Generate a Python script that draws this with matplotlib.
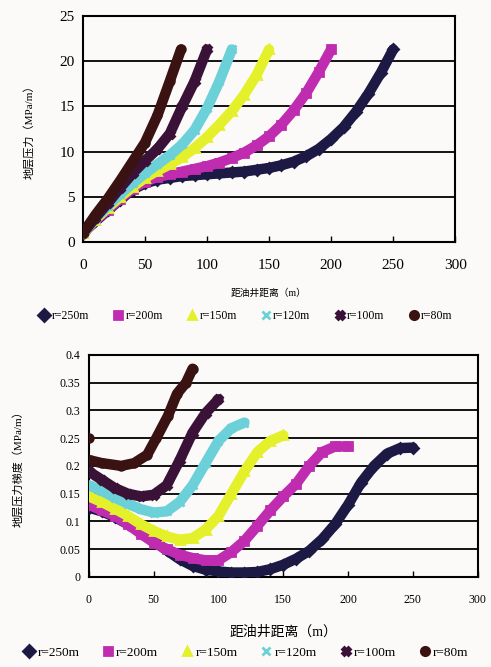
import matplotlib
matplotlib.use("Agg")
import matplotlib.pyplot as plt
from matplotlib.lines import Line2D

plt.rcParams["font.family"] = ["Liberation Serif", "Noto Sans CJK SC"]

LABELS = ["r=250m", "r=200m", "r=150m", "r=120m", "r=100m", "r=80m"]
COLORS = ["#1c1a44", "#c02cb0", "#e4f02a", "#6cd0d8", "#3a1238", "#3a1212"]
MARKERS = ["D", "s", "^", "x", "X", "o"]

# top chart: formation pressure vs distance
P_X = {
    "r=250m": [0, 10, 20, 30, 40, 50, 60, 70, 80, 90, 100, 110, 120, 130, 140, 150,
               160, 170, 180, 190, 200, 210, 220, 230, 240, 250],
    "r=200m": [0, 10, 20, 30, 40, 50, 60, 70, 80, 90, 100, 110, 120, 130, 140, 150,
               160, 170, 180, 190, 200],
    "r=150m": [0, 10, 20, 30, 40, 50, 60, 70, 80, 90, 100, 110, 120, 130, 140, 150],
    "r=120m": [0, 10, 20, 30, 40, 50, 60, 70, 80, 90, 100, 110, 120],
    "r=100m": [0, 10, 20, 30, 40, 50, 60, 70, 80, 90, 100],
    "r=80m": [0, 10, 20, 30, 40, 50, 60, 70, 79],
}
P_Y = {
    "r=250m": [1.0, 2.3, 3.5, 4.7, 5.8, 6.5, 6.9, 7.1, 7.3, 7.4, 7.5, 7.6, 7.7, 7.8, 8.0, 8.2,
               8.5, 8.9, 9.5, 10.3, 11.4, 12.7, 14.4, 16.4, 18.7, 21.3],
    "r=200m": [1.0, 2.4, 3.6, 4.8, 5.9, 6.7, 7.2, 7.5, 7.8, 8.1, 8.4, 8.8, 9.3, 9.9, 10.7, 11.7,
               13.0, 14.6, 16.5, 18.8, 21.3],
    "r=150m": [1.0, 2.5, 3.8, 5.0, 6.1, 7.1, 7.9, 8.6, 9.4, 10.4, 11.6, 13.0, 14.5, 16.3, 18.5, 21.3],
    "r=120m": [1.0, 2.6, 4.0, 5.3, 6.5, 7.6, 8.6, 9.6, 10.8, 12.4, 14.8, 17.8, 21.3],
    "r=100m": [1.0, 2.7, 4.3, 6.0, 7.6, 9.0, 10.3, 12.0, 15.0, 17.8, 21.3],
    "r=80m": [1.0, 3.0, 4.8, 6.8, 8.9, 11.0, 14.0, 17.8, 21.3],
}

# bottom chart: pressure gradient vs distance
G_X = {
    "r=250m": [0, 10, 20, 30, 40, 50, 60, 70, 80, 90, 100, 110, 120, 130, 140, 150,
               160, 170, 180, 190, 200, 210, 220, 230, 240, 250],
    "r=200m": [0, 10, 20, 30, 40, 50, 60, 70, 80, 90, 100, 110, 120, 130, 140, 150,
               160, 170, 180, 190, 200],
    "r=150m": [0, 10, 20, 30, 40, 50, 60, 70, 80, 90, 100, 110, 120, 130, 140, 150],
    "r=120m": [0, 10, 20, 30, 40, 50, 60, 70, 80, 90, 100, 110, 120],
    "r=100m": [0, 10, 20, 30, 40, 50, 60, 70, 80, 90, 100],
    "r=80m": [0, 1, 10, 25, 35, 45, 52, 61, 68, 75, 80],
}
G_Y = {
    "r=250m": [0.125, 0.118, 0.108, 0.095, 0.08, 0.065, 0.048, 0.032, 0.02, 0.013, 0.01, 0.008,
               0.008, 0.009, 0.014, 0.022, 0.033, 0.047, 0.068, 0.095, 0.13, 0.17, 0.2, 0.222,
               0.232, 0.233],
    "r=200m": [0.13, 0.12, 0.11, 0.095, 0.078, 0.062, 0.05, 0.04, 0.034, 0.03, 0.03, 0.045,
               0.065, 0.092, 0.12, 0.145, 0.168, 0.2, 0.225, 0.235, 0.235],
    "r=150m": [0.145, 0.135, 0.123, 0.11, 0.095, 0.083, 0.073, 0.067, 0.07, 0.085, 0.11, 0.15,
               0.19, 0.225, 0.245, 0.255],
    "r=120m": [0.165, 0.155, 0.143, 0.132, 0.122, 0.116, 0.118, 0.135, 0.165, 0.205, 0.245,
               0.268, 0.278],
    "r=100m": [0.19, 0.175, 0.16, 0.15, 0.145, 0.148, 0.165, 0.21, 0.26, 0.295, 0.32],
    "r=80m": [0.25, 0.21, 0.205, 0.2, 0.205, 0.22, 0.25, 0.29, 0.33, 0.35, 0.375],
}


def style_axes(ax, ymax, ystep, tick_size):
    ax.set_xlim(0, 300)
    ax.set_ylim(0, ymax)
    ax.set_xticks(range(0, 301, 50))
    yt = [i * ystep for i in range(int(round(ymax / ystep)) + 1)]
    ax.set_yticks(yt)
    ax.set_yticklabels([f"{v:g}" for v in yt])
    ax.yaxis.grid(True, color="black", linewidth=1.3)
    ax.set_axisbelow(True)
    ax.tick_params(axis="x", direction="in", length=4, width=1, labelsize=tick_size, pad=12)
    ax.tick_params(axis="y", length=0, labelsize=tick_size, pad=6)
    for sp in ax.spines.values():
        sp.set_linewidth(1.5)
    ax.set_facecolor("#fcfaf8")


def draw_series(ax, xs, ys, first_gap=()):
    for lab, col, mk in zip(LABELS, COLORS, MARKERS):
        x, y = xs[lab], ys[lab]
        s = 1 if lab in first_gap else 0
        ax.plot(x[s:], y[s:], color=col, linewidth=7.5, solid_capstyle="round", zorder=3)
        ax.plot(x, y, linestyle="none", marker=mk, color=col, markersize=5.5,
                markeredgewidth=2, zorder=3)


def add_legend(fig, y, size, spacing):
    handles = [Line2D([], [], linestyle="none", marker=mk, color=col, markersize=6,
                      markeredgewidth=2)
               for col, mk in zip(COLORS, MARKERS)]
    fig.legend(handles, LABELS, loc="center", bbox_to_anchor=(0.5, y), ncol=6,
               frameon=False, fontsize=size, handletextpad=0.1, columnspacing=spacing,
               handlelength=1.0)


fig = plt.figure(figsize=(4.91, 6.67), dpi=100)
fig.patch.set_facecolor("#fcfaf8")

ax1 = fig.add_axes([0.169, 0.637, 0.758, 0.339])
draw_series(ax1, P_X, P_Y)
style_axes(ax1, 25, 5, 11)
ax1.set_xlabel("距油井距离（m）", fontsize=7, labelpad=12)
ax1.set_ylabel("地层压力（MPa/m）", fontsize=8)
ax1.yaxis.set_label_coords(-0.13, 0.5)
add_legend(fig, 0.526, 8.5, 2.0)

ax2 = fig.add_axes([0.181, 0.135, 0.792, 0.333])
draw_series(ax2, G_X, G_Y, first_gap=("r=80m",))
style_axes(ax2, 0.4, 0.05, 8.5)
ax2.set_xlabel("距油井距离（m）", fontsize=10, labelpad=14)
ax2.set_ylabel("地层压力梯度（MPa/m）", fontsize=8)
ax2.yaxis.set_label_coords(-0.17, 0.5)
add_legend(fig, 0.021, 9.5, 1.7)

fig.savefig("out.png", dpi=100, facecolor=fig.get_facecolor())
